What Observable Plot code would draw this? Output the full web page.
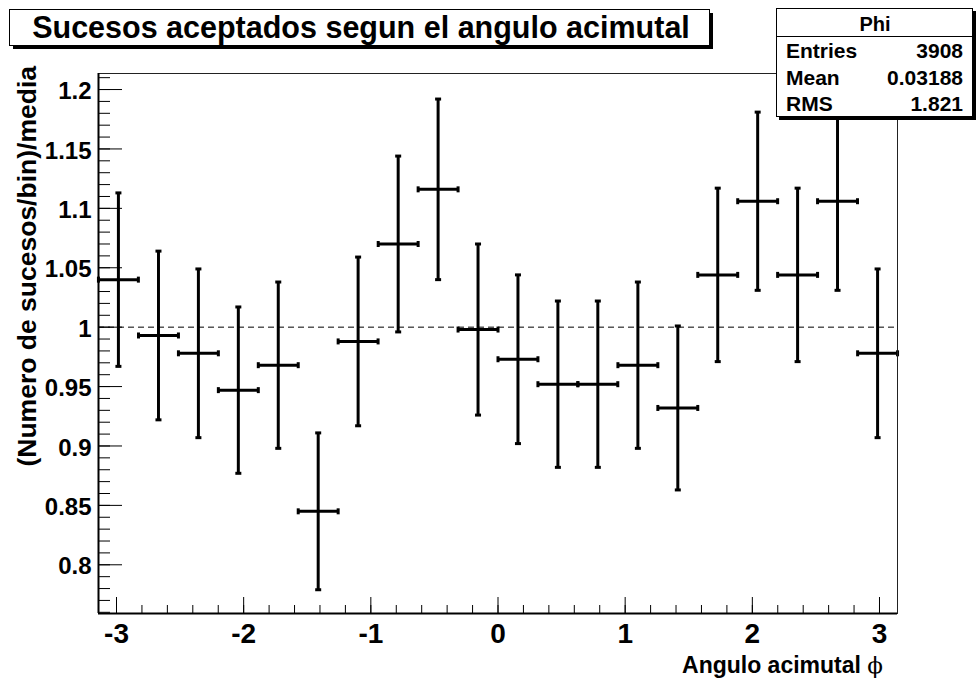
<!DOCTYPE html>
<html><head><meta charset="utf-8">
<script src="https://cdn.jsdelivr.net/npm/d3@7"></script>
<script src="https://cdn.jsdelivr.net/npm/@observablehq/plot@0.6"></script>
<style>body{margin:0;background:#fff;} svg{display:block}</style>
</head><body><div id="chart"></div>
<script>
// ---- data ----
const binCenters = [-2.985, -2.670, -2.356, -2.042, -1.728, -1.414, -1.100, -0.785, -0.471, -0.157,
                     0.157,  0.471,  0.785,  1.100,  1.414,  1.728,  2.042,  2.356,  2.670,  2.985];
const ratio = [1.040, 0.993, 0.978, 0.947, 0.968, 0.845, 0.988, 1.070, 1.116, 0.998,
               0.973, 0.952, 0.952, 0.968, 0.932, 1.044, 1.106, 1.044, 1.106, 0.978];
const err   = [0.073, 0.071, 0.071, 0.070, 0.070, 0.066, 0.071, 0.074, 0.076, 0.072,
               0.071, 0.070, 0.070, 0.070, 0.069, 0.073, 0.075, 0.073, 0.075, 0.071];
const binHalfWidth = 0.157;
const referenceLevel = [1];
const xTicks = [-3, -2, -1, 0, 1, 2, 3];
const yTicks = [0.8, 0.85, 0.9, 0.95, 1, 1.05, 1.1, 1.15, 1.2];
const titleText = "Sucesos aceptados segun el angulo acimutal";
const xTitle = "Angulo acimutal ";
const xTitleSymbol = "ϕ";
const yTitle = "(Numero de sucesos/bin)/media";
const statsName = "Phi";
const statsLabels = ["Entries", "Mean", "RMS"];
const statsValues = ["3908", "0.03188", "1.821"];

// ---- layout ----
const W = 977, H = 683, mL = 98, mT = 73, mR = 80, mB = 70;
const fw = W - mL - mR, fh = H - mT - mB;
const xDomain = [-Math.PI, Math.PI];
const yDomain = [0.759, 1.2135];
const xMinor = d3.range(-30, 31, 2).map(d => d / 10);
const yMinor = d3.range(76, 122).map(d => d / 100);
const font = "'Liberation Sans', Arial, Helvetica, sans-serif";

const data = binCenters.map((x, i) => ({x, y: ratio[i], e: err[i]}));
const ends = data.flatMap(d => [{x: d.x, y: d.y - d.e}, {x: d.x, y: d.y + d.e}]);
const sides = data.flatMap(d => [{x: d.x - binHalfWidth, y: d.y}, {x: d.x + binHalfWidth, y: d.y}]);
const capH = {draw(ctx) { ctx.moveTo(-3, 0); ctx.lineTo(3, 0); }};
const capV = {draw(ctx) { ctx.moveTo(0, -3); ctx.lineTo(0, 3); }};

const chart = Plot.plot({
  width: W, height: H,
  marginLeft: mL, marginTop: mT, marginRight: mR, marginBottom: mB,
  style: {fontFamily: font, background: "white", color: "black"},
  x: {domain: xDomain},
  y: {domain: yDomain},
  marks: [
    Plot.ruleY(referenceLevel, {y: d => d, stroke: "black", strokeWidth: 1, strokeDasharray: "6,4"}),
    Plot.link(data, {x1: d => d.x - binHalfWidth, x2: d => d.x + binHalfWidth, y1: "y", y2: "y", stroke: "black", strokeWidth: 3}),
    Plot.ruleX(data, {x: "x", y1: d => d.y - d.e, y2: d => d.y + d.e, stroke: "black", strokeWidth: 3}),
    Plot.dot(ends, {x: "x", y: "y", symbol: capH, fill: "none", stroke: "black", strokeWidth: 3}),
    Plot.dot(sides, {x: "x", y: "y", symbol: capV, fill: "none", stroke: "black", strokeWidth: 3}),
    Plot.frame({stroke: "#222", strokeWidth: 1}),
    Plot.tickX(xMinor, {x: d => d, insetTop: fh - 8, stroke: "black", strokeWidth: 1}),
    Plot.tickX(xTicks, {x: d => d, insetTop: fh - 16, stroke: "black", strokeWidth: 1}),
    Plot.tickY(yMinor, {y: d => d, insetRight: fw - 12, stroke: "black", strokeWidth: 1}),
    Plot.tickY(yTicks, {y: d => d, insetRight: fw - 24, stroke: "black", strokeWidth: 1}),
    Plot.ruleX([xDomain[0]], {x: d => d, stroke: "black", strokeWidth: 2}),
    Plot.ruleY([yDomain[0]], {y: d => d, stroke: "black", strokeWidth: 2}),
    Plot.axisX({ticks: xTicks, tickSize: 0, tickPadding: 10, tickFormat: d => String(d),
                fontSize: 28, fontWeight: "bold", label: null}),
    Plot.axisY({ticks: yTicks, tickSize: 0, tickPadding: 7, tickFormat: d => String(d),
                fontSize: 24, fontWeight: "bold", dy: 2, label: null})
  ]
});
document.getElementById("chart").appendChild(chart);

// ---- ROOT-style annotations ----
const svg = d3.select(chart);
const g = svg.append("g").attr("font-family", font).attr("font-weight", "bold")
  .attr("fill", "black").attr("text-anchor", "start");

// axis titles
g.append("text").attr("transform", "translate(36,66) rotate(-90)")
  .attr("text-anchor", "end").attr("font-size", 26.5).text(yTitle);
const xt = g.append("text").attr("x", 883).attr("y", 673).attr("text-anchor", "end").attr("font-size", 23);
xt.append("tspan").text(xTitle);
xt.append("tspan").attr("font-weight", "normal").attr("font-family", "'DejaVu Serif', serif").text(xTitleSymbol);

// title box
g.append("rect").attr("x", 13).attr("y", 13).attr("width", 700).attr("height", 36).attr("fill", "black");
g.append("rect").attr("x", 9.5).attr("y", 9.5).attr("width", 700).attr("height", 36)
  .attr("fill", "white").attr("stroke", "black");
g.append("text").attr("x", 361).attr("y", 38).attr("text-anchor", "middle").attr("font-size", 30.5).text(titleText);

// stats box
g.append("rect").attr("x", 779).attr("y", 11).attr("width", 197).attr("height", 109).attr("fill", "black");
g.append("rect").attr("x", 776.5).attr("y", 8.5).attr("width", 196).attr("height", 108)
  .attr("fill", "white").attr("stroke", "black");
g.append("line").attr("x1", 776.5).attr("x2", 972.5).attr("y1", 36.5).attr("y2", 36.5).attr("stroke", "black");
g.append("text").attr("x", 875).attr("y", 31).attr("text-anchor", "middle").attr("font-size", 20).text(statsName);
const rowY = [58, 84.5, 111];
statsLabels.forEach((lab, i) => {
  g.append("text").attr("x", 786).attr("y", rowY[i]).attr("text-anchor", "start").attr("font-size", 21).text(lab);
  g.append("text").attr("x", 963).attr("y", rowY[i]).attr("text-anchor", "end").attr("font-size", 21).text(statsValues[i]);
});
</script>
</body></html>
